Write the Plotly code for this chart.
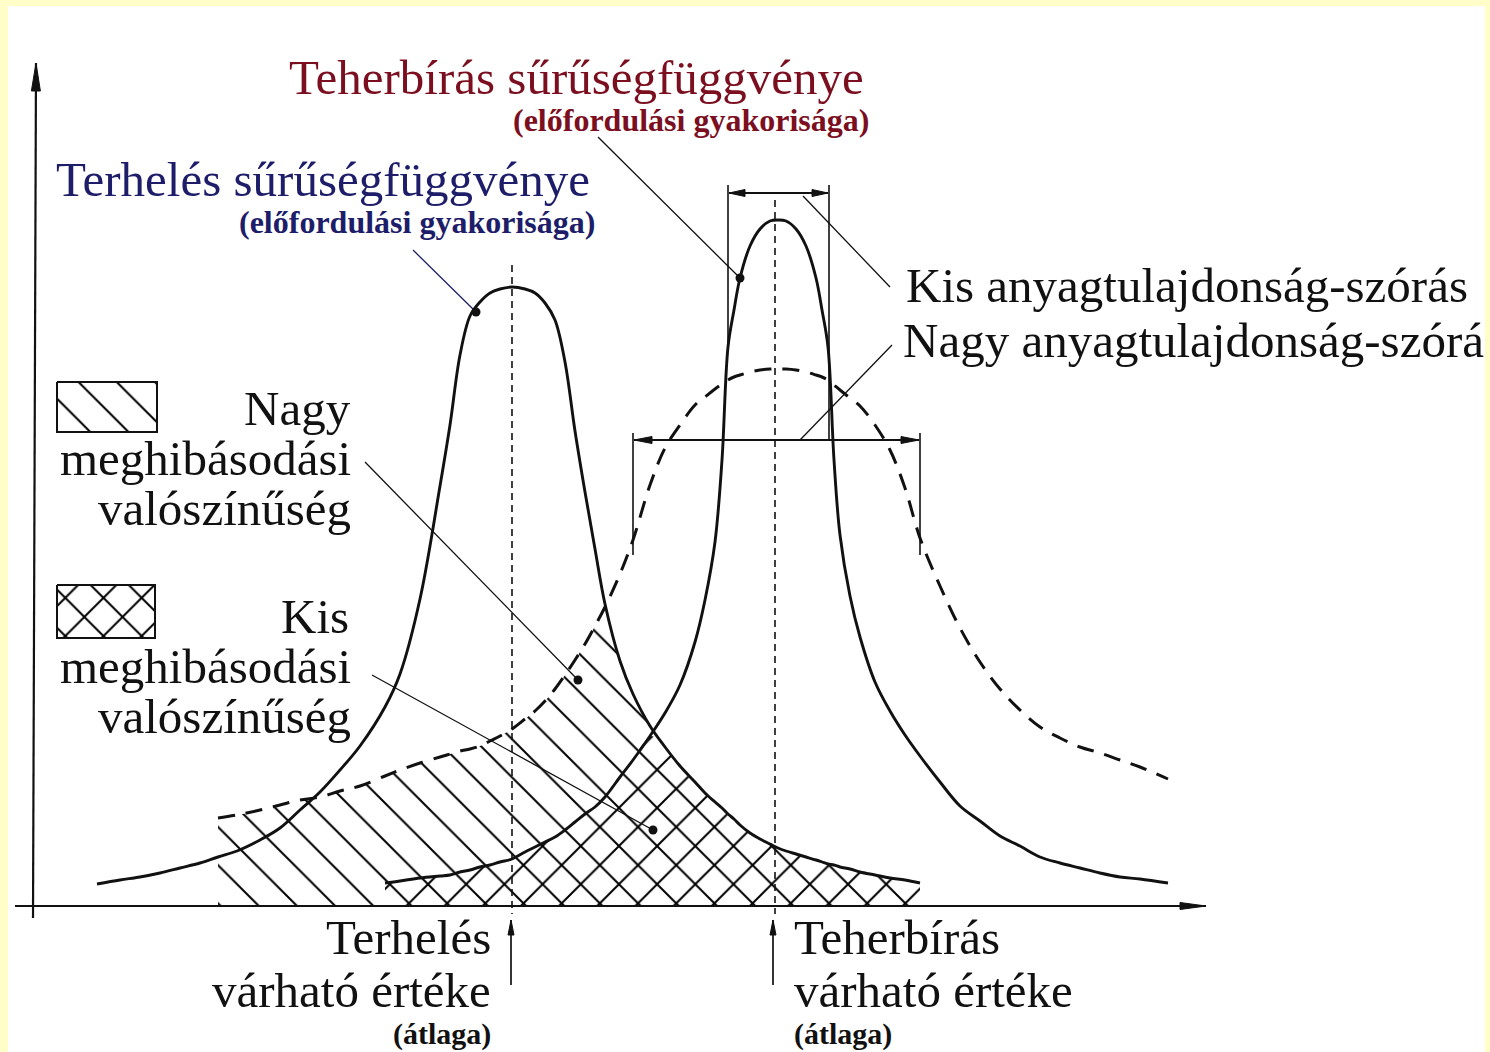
import numpy as np
import plotly.graph_objects as go

# Positions along the horizontal axis and the heights of the three density
# curves above it (None where a curve is not drawn).
pos = [97, 120, 140, 160, 180, 200, 218, 237, 260, 280,
       300, 320, 340, 360, 385, 400, 420, 440, 450, 460,
       470, 480, 490, 500, 512, 525, 535, 545, 555, 565,
       575, 585, 595, 605, 620, 633, 650, 665, 680, 695,
       705, 715, 722, 728, 734, 740, 750, 760, 770, 778,
       786, 796, 806, 816, 822, 828, 834, 840, 850, 860,
       875, 890, 905, 920, 940, 960, 980, 1000, 1020, 1040,
       1060, 1080, 1100, 1120, 1140, 1168]

# Terhelés sűrűségfüggvénye
load = [22, 26, 29, 33, 38, 43, 49, 55, 66, 78,
        96, 114, 136, 160, 199, 232, 307, 420, 481, 551,
        590, 604, 613, 617, 619, 617, 613, 603, 586, 544,
        475, 414, 357, 302, 245, 212, 180, 159, 140, 124,
        113, 104, 98, 92, 87, 81, 73, 67, 62, 58,
        55, 52, 49, 46, 44, 42, 41, 39, 37, 34,
        31, 28, 26, 23] + [None] * 12

# Teherbírás, kis anyagtulajdonság-szórás
capacity_narrow = [None] * 14 + [
    23, 25, 28, 30, 31, 34, 36, 39, 41, 44,
    47, 54, 59, 64, 69, 76, 84, 92, 99, 109,
    129, 146, 170, 193, 221, 264, 306, 364, 446, 559,
    596, 628, 660, 677, 685, 686, 685, 677, 660, 628,
    596, 559, 446, 371, 310, 269, 224, 195, 171, 150,
    124, 100, 85, 70, 60, 49, 43, 38, 33, 29,
    27, 23]

# Teherbírás, nagy anyagtulajdonság-szórás
capacity_wide = [None] * 6 + [
    88, 91, 96, 101,
    106, 109, 115, 120, 130, 136, 143, 149, 152, 155,
    157, 160, 165, 170, 177, 187, 195, 205, 217, 231,
    246, 262, 280, 299, 332, 366, 421, 458, 481, 501,
    509, 517, 522, 526, 529, 531, 534, 536, 537, 537,
    537, 536, 534, 531, 529, 526, 521, 516, 508, 500,
    481, 456, 418, 368, 320, 278, 244, 217, 196, 179,
    168, 159, 153, 146, 139, 127]

INK = "#111111"
NAVY = "#1d1d6a"
MAROON = "#7b0f1f"
FRAME = "#fffdc8"
SERIF = "Liberation Serif, Times New Roman, serif"
HATCH_SIZE = 27
HATCH_SOLIDITY = 0.075

P = np.array(pos, float)


def as_array(values):
    return np.array([np.nan if v is None else v for v in values], float)


L = as_array(load)
N = as_array(capacity_narrow)
W = as_array(capacity_wide)
load_peak = P[np.nanargmax(L)]


def overlap(cap):
    """Region under the capacity curve up to where it meets the load curve's falling side."""
    ok = ~np.isnan(cap) & ~np.isnan(L)
    top = np.where(P < load_peak, cap, np.minimum(cap, L))
    return P[ok], top[ok]


fig = go.Figure()


def segment(x0, y0, x1, y1, width=1.3, color=INK, dash=None):
    fig.add_trace(go.Scatter(x=[x0, x1], y=[y0, y1], mode="lines",
                             line=dict(color=color, width=width, dash=dash),
                             hoverinfo="skip"))


def arrow_head(tip, tail, length, width, color=INK):
    tip = np.array(tip, float)
    d = tip - np.array(tail, float)
    d /= np.hypot(*d)
    n = np.array([-d[1], d[0]])
    base = tip - d * length
    pts = [tip, base + n * width / 2, base - n * width / 2, tip]
    fig.add_trace(go.Scatter(x=[p[0] for p in pts], y=[p[1] for p in pts],
                             mode="lines", fill="toself", fillcolor=color,
                             line=dict(color=color, width=1), hoverinfo="skip"))


def arrow(tail, tip, length, width, lw=1.8):
    segment(tail[0], tail[1], tip[0], tip[1], width=lw)
    arrow_head(tip, tail, length, width)


def pattern(shape, bg="white"):
    return dict(shape=shape, size=HATCH_SIZE, solidity=HATCH_SOLIDITY,
                fgcolor="#000000", fgopacity=1, bgcolor=bg, fillmode="replace")


def hatch_box(x0, x1, y0, y1, shapes):
    for i, shape in enumerate(shapes):
        fig.add_trace(go.Scatter(x=[x0, x1, x1, x0, x0], y=[y0, y0, y1, y1, y0],
                                 mode="lines", fill="toself", fillcolor="#000000",
                                 fillpattern=pattern(shape, "white" if i == 0 else "rgba(0,0,0,0)"),
                                 line=dict(color=INK, width=2), hoverinfo="skip"))


# hatched overlap areas: single hatching, then the opposite diagonal on top
hx, hy = overlap(W)
fig.add_trace(go.Scatter(x=hx, y=hy, mode="lines", line=dict(width=0, shape="spline"),
                         fill="tozeroy", fillcolor="#000000",
                         fillpattern=pattern("\\"), hoverinfo="skip"))
cx, cy = overlap(N)
fig.add_trace(go.Scatter(x=cx, y=cy, mode="lines", line=dict(width=0, shape="spline"),
                         fill="tozeroy", fillcolor="#000000",
                         fillpattern=pattern("/", "rgba(0,0,0,0)"), hoverinfo="skip"))

# mean lines
segment(512, 641, 512, -8, width=1.6, dash="7px,5px")
segment(775, 706, 775, -8, width=1.6, dash="7px,5px")

# density curves
fig.add_trace(go.Scatter(x=P, y=L, mode="lines",
                         line=dict(color=INK, width=2.9, shape="spline"),
                         hoverinfo="skip"))
fig.add_trace(go.Scatter(x=P, y=N, mode="lines",
                         line=dict(color=INK, width=2.9, shape="spline"),
                         hoverinfo="skip"))
fig.add_trace(go.Scatter(x=P, y=W, mode="lines",
                         line=dict(color=INK, width=3, shape="spline", dash="17px,11px"),
                         hoverinfo="skip"))

# coordinate axes
arrow((33, -12), (36, 843), 28, 9, lw=2.2)
arrow((15, 0), (1206, 0), 26, 7, lw=2.2)

# spread markers: narrow
segment(728, 721, 728, 561, width=1.6)
segment(829, 721, 829, 466, width=1.6)
arrow((778, 713), (729, 713), 16, 7, lw=2)
arrow((778, 713), (828, 713), 16, 7, lw=2)
# spread markers: wide
segment(633, 473, 633, 351, width=1.6)
segment(920, 473, 920, 351, width=1.6)
arrow((776, 466), (634, 466), 18, 7, lw=2)
arrow((776, 466), (919, 466), 18, 7, lw=2)

# mean arrows under the axis
arrow((511, -79), (511, -14), 15, 6, lw=1.7)
arrow((773, -79), (773, -14), 15, 6, lw=1.7)

# leader lines and dots
segment(413, 656, 476, 594, width=1.3, color=NAVY)
segment(598, 769, 740, 628)
segment(890, 619, 803, 710)
segment(892, 561, 800, 466)
segment(365, 444, 578, 226)
segment(372, 231, 653, 76)
fig.add_trace(go.Scatter(x=[476, 740, 578, 653], y=[594, 628, 226, 76], mode="markers",
                         marker=dict(color=INK, size=9), hoverinfo="skip"))

# legend swatches
hatch_box(57, 157, 524, 474, ["\\"])
hatch_box(57, 155, 321, 268, ["\\", "/"])

# label clipped by the frame on the right
fig.add_trace(go.Scatter(x=[903], y=[561], mode="text",
                         text=["Nagy anyagtulajdonság-szórás"],
                         textposition="middle right",
                         textfont=dict(family=SERIF, size=49, color=INK),
                         cliponaxis=True, hoverinfo="skip"))


def label(text, x, y, anchor="left", size=49, color=INK):
    fig.add_annotation(x=x, y=y, xref="x", yref="y", text=text, showarrow=False,
                       xanchor=anchor, yanchor="middle", borderpad=0,
                       font=dict(family=SERIF, size=size, color=color))


label("Teherbírás sűrűségfüggvénye", 288, 829, "left", 49, MAROON)
label("<b>(előfordulási gyakorisága)</b>", 870, 786, "right", 32, MAROON)
label("Terhelés sűrűségfüggvénye", 55, 727, "left", 49, NAVY)
label("<b>(előfordulási gyakorisága)</b>", 596, 684, "right", 32, NAVY)
label("Kis anyagtulajdonság-szórás", 905, 621, "left")

label("Nagy", 352, 498, "right")
label("meghibásodási", 352, 448, "right")
label("valószínűség", 352, 398, "right")
label("Kis", 350, 290, "right")
label("meghibásodási", 352, 240, "right")
label("valószínűség", 352, 190, "right")

label("Terhelés", 492, -31, "right")
label("várható értéke", 492, -84, "right")
label("<b>(átlaga)</b>", 492, -128, "right", 30)
label("Teherbírás", 793, -31, "left")
label("várható értéke", 793, -84, "left")
label("<b>(átlaga)</b>", 793, -128, "left", 30)

fig.update_layout(
    width=1490, height=1052,
    margin=dict(l=8, r=5, t=6, b=0, pad=0),
    paper_bgcolor=FRAME, plot_bgcolor="white",
    showlegend=False,
    xaxis=dict(range=[8, 1485], visible=False, fixedrange=True),
    yaxis=dict(range=[-146, 900], visible=False, fixedrange=True),
)

fig.write_html("out.html")
